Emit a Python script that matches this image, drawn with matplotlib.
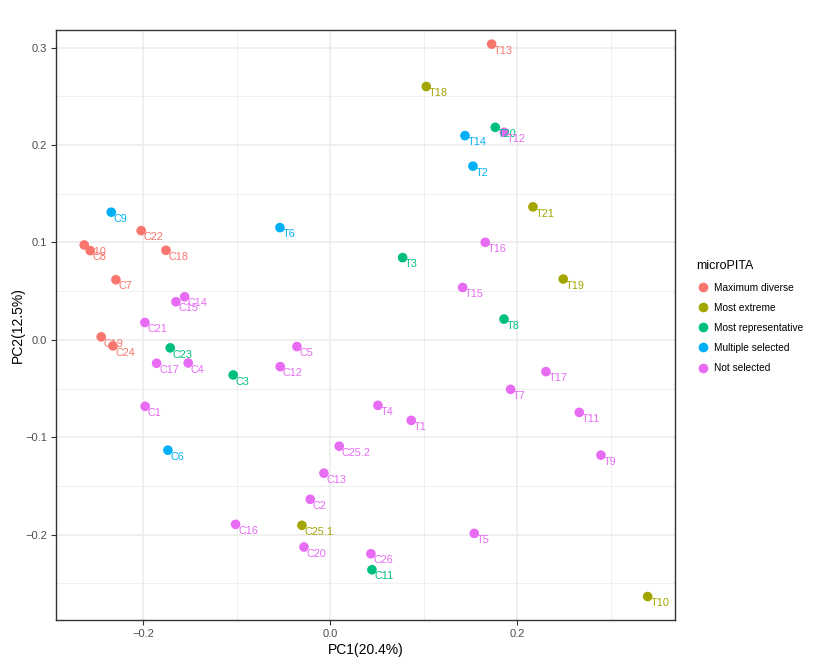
import matplotlib
matplotlib.use("Agg")
import matplotlib.pyplot as plt
from matplotlib.lines import Line2D

plt.rcParams['font.family'] = ['Liberation Sans', 'DejaVu Sans']

# sample labels, PC1/PC2 coordinates and microPITA group
sample_names = ["T13", "C22", "C10", "C8", "C18", "C7", "C19", "C24",
                "T18", "T21", "T19", "C25.1", "T10",
                "T20", "T3", "T8", "C23", "C3", "C11",
                "C9", "T6", "T14", "T2", "C6",
                "T12", "T16", "T15", "C14", "C15", "C21", "C17", "C4", "C1",
                "C5", "C12", "T4", "T1", "C25.2", "C13", "C2", "C16", "C20",
                "C26", "T5", "T17", "T7", "T11", "T9"]
pc1 = [0.1724, -0.2024, -0.2633, -0.2569, -0.1759, -0.2294, -0.2451, -0.2326,
       0.1025, 0.2166, 0.2490, -0.0305, 0.3393,
       0.1763, 0.0772, 0.1856, -0.1713, -0.1040, 0.0444,
       -0.2344, -0.0540, 0.1439, 0.1524, -0.1738,
       0.1859, 0.1656, 0.1414, -0.1559, -0.1652, -0.1984, -0.1859, -0.1521, -0.1981,
       -0.0358, -0.0537, 0.0508, 0.0864, 0.0094, -0.0070, -0.0216, -0.1014, -0.0283,
       0.0433, 0.1538, 0.2305, 0.1927, 0.2661, 0.2893]
pc2 = [0.3035, 0.1121, 0.0974, 0.0916, 0.0919, 0.0617, 0.0031, -0.0062,
       0.2600, 0.1365, 0.0624, -0.1903, -0.2634,
       0.2181, 0.0844, 0.0213, -0.0082, -0.0360, -0.2359,
       0.1310, 0.1152, 0.2096, 0.1783, -0.1132,
       0.2130, 0.1001, 0.0538, 0.0442, 0.0391, 0.0178, -0.0240, -0.0237, -0.0682,
       -0.0069, -0.0275, -0.0672, -0.0826, -0.1091, -0.1368, -0.1636, -0.1893, -0.2126,
       -0.2195, -0.1986, -0.0326, -0.0508, -0.0744, -0.1183]
groups = (["Maximum diverse"] * 8 + ["Most extreme"] * 5 +
          ["Most representative"] * 6 + ["Multiple selected"] * 5 +
          ["Not selected"] * 24)

group_order = ["Maximum diverse", "Most extreme", "Most representative",
               "Multiple selected", "Not selected"]
group_colors = {"Maximum diverse": "#F8766D", "Most extreme": "#A3A500",
                "Most representative": "#00BF7D", "Multiple selected": "#00B0F6",
                "Not selected": "#E76BF3"}

fig = plt.figure(figsize=(8.16, 6.62), dpi=100)
ax = fig.add_axes([0.0686, 0.0634, 0.7586, 0.8913])

for name, x, y, g in zip(sample_names, pc1, pc2, groups):
    col = group_colors[g]
    ax.scatter(x, y, s=48, color=col, edgecolors='none', zorder=3)
    ax.annotate(name, (x, y), xytext=(1.8, -1.2), textcoords='offset points',
                ha='left', va='top', fontsize=7.8, color=col, zorder=4)

ax.set_xlim(-0.2935, 0.3685)
ax.set_ylim(-0.2875, 0.318)
ax.set_xticks([-0.2, 0.0, 0.2])
ax.set_xticklabels(["\u22120.2", "0.0", "0.2"])
ax.set_xticks([-0.1, 0.1, 0.3], minor=True)
ax.set_yticks([-0.2, -0.1, 0.0, 0.1, 0.2, 0.3])
ax.set_yticklabels(["\u22120.2", "\u22120.1", "0.0", "0.1", "0.2", "0.3"])
ax.set_yticks([-0.25, -0.15, -0.05, 0.05, 0.15, 0.25], minor=True)

ax.grid(which='major', color='#EBEBEB', linewidth=1.1, zorder=0)
ax.grid(which='minor', color='#EBEBEB', linewidth=0.55, zorder=0)
ax.set_axisbelow(True)
for sp in ax.spines.values():
    sp.set_color('#333333')
    sp.set_linewidth(1.0)
ax.tick_params(which='major', length=3.5, width=0.8, color='#333333',
               labelsize=8, labelcolor='#4D4D4D', pad=3)
ax.tick_params(which='minor', length=0)

ax.set_xlabel("PC1(20.4%)", fontsize=10, labelpad=3)
ax.set_ylabel("PC2(12.5%)", fontsize=10, labelpad=0)

handles = [Line2D([], [], marker='o', linestyle='none', markersize=7,
                  markerfacecolor=group_colors[g], markeredgecolor='none', label=g)
           for g in group_order]
leg = ax.legend(handles=handles, title="microPITA", loc='center left',
                bbox_to_anchor=(1.02, 0.514), frameon=False, fontsize=7.3,
                title_fontsize=9, handletextpad=0.55, labelspacing=1.0,
                alignment='left', borderaxespad=0.5, handlelength=1.2)

fig.savefig("out.png", dpi=100)
